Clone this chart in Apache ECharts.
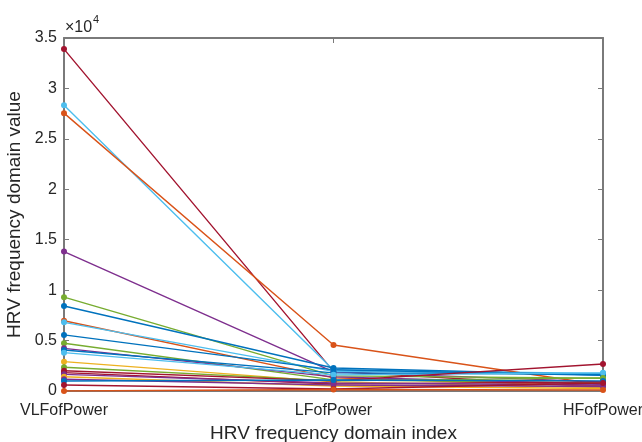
<!DOCTYPE html>
<html>
<head>
<meta charset="utf-8">
<script src="https://cdn.jsdelivr.net/npm/echarts@6/dist/echarts.min.js"></script>
<style>
html,body{margin:0;padding:0;background:#fff;}
#chart{width:642px;height:442px;}
</style>
</head>
<body>
<div id="chart"></div>
<script>
// Categories (x axis)
const categories = ['VLFofPower', 'LFofPower', 'HFofPower'];
// Per-subject values at each index
const vlfValues = [33900, 28340, 27550, 13820, 9300, 8430, 6970, 6810, 5560, 4730, 4230, 4070, 3800, 2910, 2350, 2010, 1820, 1650, 1420, 1160, 990, 600, 0];
const lfValues  = [1950, 2080, 4560, 1900, 1500, 2280, 1300, 1950, 2100, 1100, 1400, 1800, 1600, 900, 1000, 1000, 700, 800, 500, 600, 1090, 200, 150];
const hfValues  = [400, 1750, 600, 900, 1260, 1590, 500, 1700, 1550, 800, 700, 1650, 1800, 350, 1300, 2680, 900, 600, 250, 450, 1000, 800, 100];
// Y tick labels (in units of 1e4)
const yTickLabels = ['0', '0.5', '1', '1.5', '2', '2.5', '3', '3.5'];

// Styles
const palette = {blue:'#0072BD', orange:'#D95319', yellow:'#EDB120', purple:'#7E2F8E', green:'#77AC30', lightblue:'#4DBEEE', darkred:'#A2142F'};
const lineColorNames = ['darkred','lightblue','orange','purple','green','blue','orange','lightblue','blue','green','purple','blue','lightblue','yellow','green','darkred','darkred','purple','yellow','purple','blue','darkred','orange'];

const series = vlfValues.map((v, i) => ({
  type: 'line',
  data: [v, lfValues[i], hfValues[i]],
  symbol: 'circle',
  symbolSize: 6,
  lineStyle: {width: 1.4, color: palette[lineColorNames[i]]},
  itemStyle: {color: palette[lineColorNames[i]]},
  emphasis: {disabled: true},
  animation: false
}));

const font = 'Liberation Sans, Arial, Helvetica, sans-serif';
const axisCol = '#7a7a7a';
const textCol = '#262626';

const chart = echarts.init(document.getElementById('chart'));
chart.setOption({
  animation: false,
  backgroundColor: '#ffffff',
  grid: {left: 64, right: 39, top: 38, bottom: 51, show: false, containLabel: false, outerBoundsMode: 'none'},
  graphic: [{
    type: 'text', left: 65, top: 20,
    style: {text: '×10', fontSize: 16, fontFamily: font, fill: textCol}
  }, {
    type: 'text', left: 93, top: 14,
    style: {text: '4', fontSize: 11, fontFamily: font, fill: textCol}
  }],
  xAxis: [{
    type: 'category',
    data: categories,
    boundaryGap: false,
    name: 'HRV frequency domain index',
    nameLocation: 'middle',
    nameGap: 29,
    nameTextStyle: {fontSize: 19, fontFamily: font, color: textCol},
    axisLine: {show: true, onZero: false, lineStyle: {color: axisCol, width: 2}},
    axisTick: {show: true, inside: true, length: 5, alignWithLabel: true, lineStyle: {color: axisCol}},
    axisLabel: {fontSize: 16, fontFamily: font, color: textCol, margin: 12, interval: 0},
    splitLine: {show: false}
  }, {
    type: 'category',
    data: categories,
    boundaryGap: false,
    position: 'top',
    axisLine: {show: true, onZero: false, lineStyle: {color: axisCol, width: 2}},
    axisTick: {show: true, inside: true, length: 5, lineStyle: {color: axisCol}},
    axisLabel: {show: false},
    splitLine: {show: false}
  }],
  yAxis: [{
    type: 'value',
    min: 0, max: 35000, interval: 5000,
    name: 'HRV frequency domain value',
    nameLocation: 'middle',
    nameGap: 25,
    nameRotate: 90,
    nameTextStyle: {fontSize: 19, fontFamily: font, color: textCol},
    axisLine: {show: true, onZero: false, lineStyle: {color: axisCol, width: 2}},
    axisTick: {show: true, inside: true, length: 5, lineStyle: {color: axisCol}},
    axisLabel: {fontSize: 16, fontFamily: font, color: textCol, margin: 7,
      formatter: (v) => yTickLabels[Math.round(v / 5000)]},
    splitLine: {show: false}
  }, {
    type: 'value',
    min: 0, max: 35000, interval: 5000,
    position: 'right',
    axisLine: {show: true, onZero: false, lineStyle: {color: axisCol, width: 2}},
    axisTick: {show: true, inside: true, length: 5, lineStyle: {color: axisCol}},
    axisLabel: {show: false},
    splitLine: {show: false}
  }],
  series: series
});
</script>
</body>
</html>
